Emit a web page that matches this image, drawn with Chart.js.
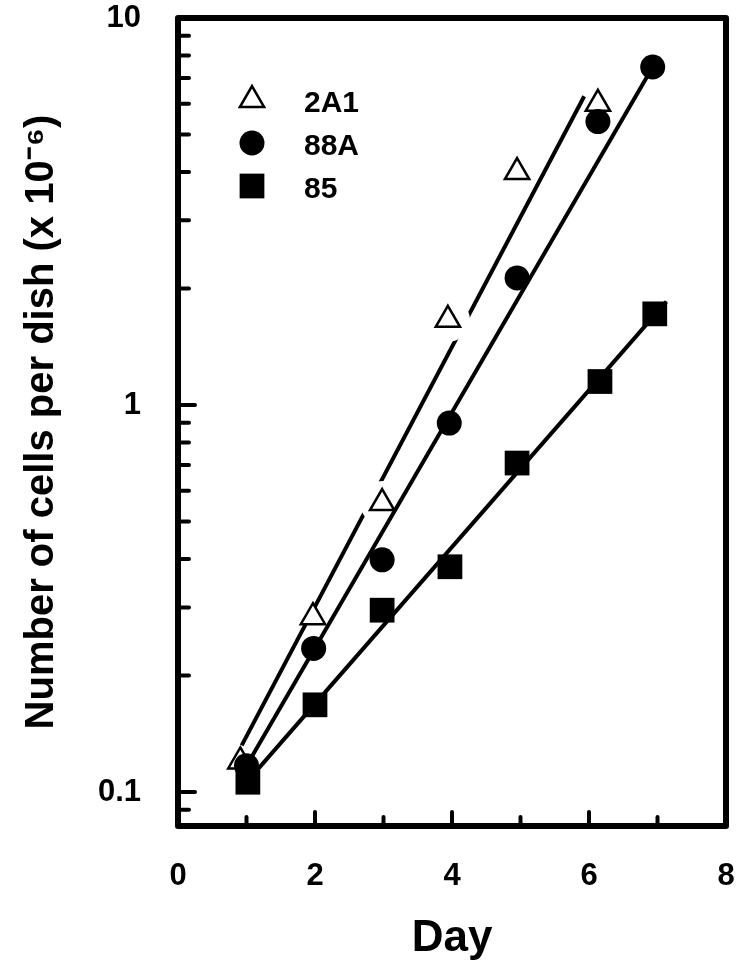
<!DOCTYPE html>
<html>
<head>
<meta charset="utf-8">
<script src="https://cdn.jsdelivr.net/npm/chart.js@4.4.1/dist/chart.umd.min.js"></script>
<style>
  html, body { margin: 0; padding: 0; background: #fff; }
  #wrap { width: 743px; height: 969px; }
</style>
</head>
<body>
<div id="wrap"><canvas id="growth"></canvas></div>
<script>
const seriesNames = ['2A1', '88A', '85'];

// cells per dish (x 10^-6) by day
const days2A1 = [0.91, 1.97, 2.98, 3.94, 4.95, 6.13];
const cells2A1 = [0.12, 0.283, 0.558, 1.66, 4.0, 6.0];

const days88A = [1.0, 1.98, 2.98, 3.96, 4.95, 6.13, 6.93];
const cells88A = [0.117, 0.235, 0.398, 0.898, 2.13, 5.4, 7.47];

const days85 = [1.02, 2.0, 2.98, 3.97, 4.95, 6.16, 6.96];
const cells85 = [0.106, 0.168, 0.295, 0.382, 0.708, 1.15, 1.72];

// fitted exponential growth lines (start, end)
const fitDays2A1 = [0.93, 5.93];
const fitCells2A1 = [0.132, 6.28];
const fitDays88A = [1.0, 6.93];
const fitCells88A = [0.117, 7.47];
const fitDays85 = [1.02, 7.13];
const fitCells85 = [0.107, 1.85];

const dayTicks = [0, 2, 4, 6, 8];
const cellTicks = [0.1, 1, 10];

const FONT = "'Liberation Sans', Arial, Helvetica, sans-serif";

const pts = (xs, ys) => xs.map((x, i) => ({ x, y: ys[i] }));

function fitLine(xs, ys, order) {
  return {
    type: 'line',
    data: pts(xs, ys),
    borderColor: '#000',
    borderWidth: 4,
    pointRadius: 0,
    fill: false,
    order
  };
}

// white gaps where the 2A1 line runs past its markers on days 3 and 4
const gapPoints = [2, 3].map(i => ({ x: days2A1[i], y: cells2A1[i] }));

const datasets = [
  fitLine(fitDays2A1, fitCells2A1, 7),
  {
    type: 'scatter', data: gapPoints, pointStyle: 'circle', pointRadius: 22,
    backgroundColor: '#fff', borderColor: '#fff', borderWidth: 0, order: 6
  },
  {
    type: 'scatter', label: seriesNames[0], data: pts(days2A1, cells2A1),
    pointStyle: 'triangle', pointRadius: 14, borderWidth: 2.5,
    backgroundColor: '#fff', borderColor: '#000', order: 5
  },
  fitLine(fitDays88A, fitCells88A, 4),
  fitLine(fitDays85, fitCells85, 4),
  {
    type: 'scatter', label: seriesNames[2], data: pts(days85, cells85),
    pointStyle: 'rect', pointRadius: 17.5, borderWidth: 0,
    backgroundColor: '#000', borderColor: '#000', order: 3
  },
  {
    type: 'scatter', label: seriesNames[1], data: pts(days88A, cells88A),
    pointStyle: 'circle', pointRadius: 12.5, borderWidth: 0,
    backgroundColor: '#000', borderColor: '#000', order: 2
  }
];

// box around the plot and tick marks pointing into it
const frameTicks = {
  id: 'frameTicks',
  afterDatasetsDraw(chart) {
    const { ctx, chartArea: a, scales: { x, y } } = chart;
    ctx.save();
    ctx.strokeStyle = '#000';
    ctx.lineCap = 'round';
    ctx.lineWidth = 4;
    ctx.beginPath();
    for (let d = 1; d < 8; d++) {
      const px = x.getPixelForValue(d);
      const len = d % 2 === 0 ? 14 : 9;
      ctx.moveTo(px, a.bottom);
      ctx.lineTo(px, a.bottom - len);
    }
    for (let e = -2; e <= 1; e++) {
      for (let m = 1; m <= 9; m++) {
        const v = m * Math.pow(10, e);
        if (v <= y.min || v >= y.max) continue;
        const py = y.getPixelForValue(v);
        const len = m === 1 ? 17 : 11;
        ctx.moveTo(a.left, py);
        ctx.lineTo(a.left + len, py);
      }
    }
    ctx.stroke();
    ctx.lineWidth = 6;
    ctx.lineJoin = 'round';
    ctx.lineCap = 'butt';
    ctx.strokeRect(a.left, a.top, a.right - a.left, a.bottom - a.top);
    ctx.restore();
  }
};

// key in the upper left corner of the plot
const insideKey = {
  id: 'insideKey',
  afterDraw(chart) {
    const { ctx, chartArea: a } = chart;
    const items = seriesNames.map(name => chart.data.datasets.find(ds => ds.label === name));
    ctx.save();
    ctx.font = 'bold 30px ' + FONT;
    ctx.textBaseline = 'middle';
    items.forEach((ds, i) => {
      const cx = a.left + 74;
      const cy = a.top + 82 + i * 43;
      ctx.fillStyle = ds.backgroundColor;
      ctx.strokeStyle = ds.borderColor;
      ctx.lineWidth = ds.borderWidth;
      Chart.helpers.drawPoint(ctx, {
        pointStyle: ds.pointStyle, radius: ds.pointRadius,
        borderWidth: ds.borderWidth, rotation: 0
      }, cx, cy);
      ctx.fillStyle = '#000';
      ctx.fillText(ds.label, a.left + 126, cy + 4);
    });
    ctx.restore();
  }
};

new Chart(document.getElementById('growth'), {
  data: { datasets },
  plugins: [frameTicks, insideKey],
  options: {
    responsive: true,
    maintainAspectRatio: false,
    animation: false,
    layout: { autoPadding: false, padding: { top: 18, right: 17, left: 0, bottom: 0 } },
    plugins: { legend: { display: false }, tooltip: { enabled: false } },
    scales: {
      x: {
        type: 'linear', min: 0, max: 8,
        afterBuildTicks: s => { s.ticks = dayTicks.map(v => ({ value: v })); },
        afterFit: s => { s.height = 143; s.paddingLeft = 0; s.paddingRight = 0; },
        grid: { display: false },
        border: { display: false },
        ticks: { color: '#000', padding: 24, font: { family: FONT, size: 31, weight: 'bold' }, maxRotation: 0 },
        title: {
          display: true, text: 'Day', color: '#000',
          font: { family: FONT, size: 44, weight: 'bold' }, padding: { top: 0, bottom: 4 }
        }
      },
      y: {
        type: 'logarithmic', min: 0.0817, max: 10,
        afterBuildTicks: s => { s.ticks = cellTicks.map(v => ({ value: v })); },
        afterFit: s => { s.width = 178; s.paddingTop = 0; s.paddingBottom = 0; },
        grid: { display: false },
        border: { display: false },
        ticks: { color: '#000', padding: 29, font: { family: FONT, size: 31, weight: 'bold' }, callback: v => String(v) },
        title: {
          display: true, text: 'Number of cells per dish (x 10\u207B\u2076)', color: '#000',
          font: { family: FONT, size: 40, weight: 'bold' }, padding: { top: 18, bottom: 0 }
        }
      }
    }
  }
});
</script>
</body>
</html>
